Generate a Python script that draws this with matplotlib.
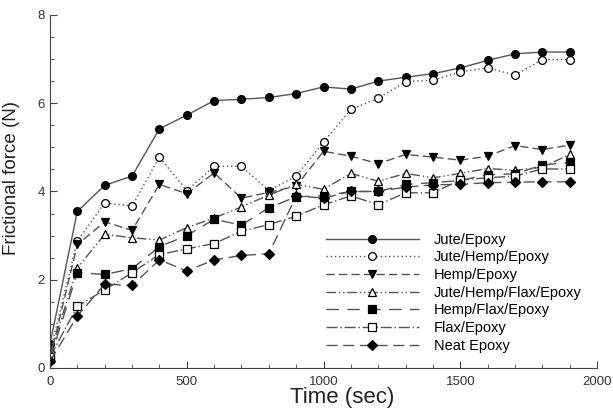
import matplotlib
matplotlib.use("Agg")
import matplotlib.pyplot as plt
from matplotlib.ticker import MultipleLocator

plt.rcParams['font.family'] = ['Liberation Sans', 'DejaVu Sans']

time = [0, 100, 200, 300, 400, 500, 600, 700, 800, 900, 1000,
        1100, 1200, 1300, 1400, 1500, 1600, 1700, 1800, 1900]

jute = [0.55, 3.55, 4.14, 4.35, 5.42, 5.73, 6.06, 6.09, 6.13, 6.22, 6.37,
        6.32, 6.50, 6.59, 6.67, 6.80, 6.97, 7.12, 7.16, 7.16]
jute_hemp = [0.36, 2.88, 3.74, 3.67, 4.78, 4.02, 4.57, 4.57, 4.02, 4.35, 5.12,
             5.86, 6.11, 6.49, 6.52, 6.71, 6.80, 6.64, 6.99, 6.99]
hemp = [0.22, 2.80, 3.31, 3.12, 4.16, 3.95, 4.42, 3.85, 3.98, 4.12, 4.91,
        4.80, 4.63, 4.84, 4.78, 4.71, 4.80, 5.04, 4.95, 5.05]
jute_hemp_flax = [0.30, 2.27, 3.03, 2.95, 2.90, 3.18, 3.40, 3.65, 3.92, 4.16, 4.05,
                  4.41, 4.23, 4.41, 4.31, 4.41, 4.52, 4.48, 4.55, 4.84]
hemp_flax = [0.20, 2.16, 2.12, 2.25, 2.75, 3.00, 3.37, 3.24, 3.63, 3.88, 3.90,
             4.00, 4.00, 4.16, 4.20, 4.25, 4.38, 4.40, 4.60, 4.66]
flax = [0.25, 1.40, 1.77, 2.16, 2.57, 2.70, 2.82, 3.10, 3.25, 3.44, 3.70,
        3.90, 3.70, 3.97, 3.97, 4.26, 4.31, 4.35, 4.51, 4.51]
neat = [0.15, 1.18, 1.90, 1.87, 2.45, 2.20, 2.45, 2.55, 2.59, 3.90, 3.85,
        4.00, 4.00, 4.10, 4.15, 4.16, 4.20, 4.21, 4.22, 4.22]

labels = ["Jute/Epoxy", "Jute/Hemp/Epoxy", "Hemp/Epoxy", "Jute/Hemp/Flax/Epoxy",
          "Hemp/Flax/Epoxy", "Flax/Epoxy", "Neat Epoxy"]

styles = [
    dict(ls="-", marker="o", mfc="black"),
    dict(ls=(0, (1, 2)), marker="o", mfc="white"),
    dict(ls=(0, (6, 3)), marker="v", mfc="black"),
    dict(ls=(0, (7, 2, 1, 2, 1, 2)), marker="^", mfc="white"),
    dict(ls=(0, (9, 6)), marker="s", mfc="black"),
    dict(ls=(0, (8, 2, 1, 2)), marker="s", mfc="white"),
    dict(ls=(0, (8, 4)), marker="D", mfc="black"),
]

fig = plt.figure(figsize=(6.13, 4.16), dpi=100)
ax = fig.add_axes([0.0816, 0.1154, 0.8924, 0.8486])

series = [jute, jute_hemp, hemp, jute_hemp_flax, hemp_flax, flax, neat]
for vals, lab, st in zip(series, labels, styles):
    ms = 4.8 if st["marker"] == "D" else 5.6
    ax.plot(time, vals, linestyle=st["ls"], marker=st["marker"],
            markerfacecolor=st["mfc"], markeredgecolor="black",
            markeredgewidth=0.9, markersize=ms, color="#555555",
            linewidth=1.0, label=lab)

ax.set_xlim(0, 2000)
ax.set_ylim(0, 8)
ax.xaxis.set_major_locator(MultipleLocator(500))
ax.xaxis.set_minor_locator(MultipleLocator(100))
ax.yaxis.set_major_locator(MultipleLocator(2))
ax.yaxis.set_minor_locator(MultipleLocator(0.5))
ax.spines['top'].set_visible(False)
ax.spines['right'].set_visible(False)
for sp in ax.spines.values():
    sp.set_color("#444444")
ax.tick_params(which="both", direction="in", colors="#444444", labelcolor="#333333")
ax.tick_params(which="major", length=5, labelsize=9.5)
ax.tick_params(axis="x", which="major", pad=6)
ax.tick_params(which="minor", length=3)

ax.set_xlabel("Time (sec)", fontsize=16, color="#222222")
ax.xaxis.set_label_coords(0.534, -0.055)
ax.set_ylabel("Frictional force (N)", fontsize=13.5, color="#222222")
ax.yaxis.set_label_coords(-0.055, 0.538)

ax.legend(loc="upper left", bbox_to_anchor=(0.48, 0.42), frameon=False,
          fontsize=10.5, handlelength=6.4, handletextpad=1.0, labelspacing=0.25)

fig.savefig("out.png", dpi=100)
